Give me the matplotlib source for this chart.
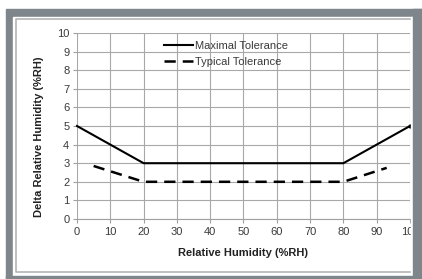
import numpy as np
import matplotlib
matplotlib.use("Agg")
import matplotlib.pyplot as plt
from matplotlib.patches import Rectangle
from matplotlib.lines import Line2D

plt.rcParams['font.family'] = ['Liberation Sans', 'DejaVu Sans']

# data
max_x = [0, 20, 80, 100]
max_y = [5, 3, 3, 5]
typ_x = [5, 20, 80, 93]
typ_y = [2.85, 2, 2, 2.75]
x_ticks = np.arange(0, 101, 10)
y_ticks = np.arange(0, 11, 1)

W, H = 422, 279
fig = plt.figure(figsize=(W / 100, H / 100), dpi=100)
fig.patch.set_facecolor('white')


def fr(x0, y0, x1, y1):
    # pixel box (top-down) -> figure fraction rect
    return (x0 / W, 1 - y1 / H), (x1 - x0) / W, (y1 - y0) / H


frame = '#7e868b'
xy, w, h = fr(6, 9, 422, 279)
fig.patches.append(Rectangle(xy, w, h, transform=fig.transFigure, color=frame, zorder=-3))
xy, w, h = fr(13, 17, 413, 276)
fig.patches.append(Rectangle(xy, w, h, transform=fig.transFigure, color='white', zorder=-2))
# thin inner border (top, left, bottom)
bx = [411 / W, 16 / W, 16 / W, 411 / W]
by = [1 - 19 / H, 1 - 19 / H, 1 - 272 / H, 1 - 272 / H]
fig.lines.append(Line2D(bx, by, transform=fig.transFigure, color='#b4b4b4', lw=1.2, zorder=-1))

ax = fig.add_axes([77 / W, 1 - 219 / H, (410 - 77) / W, (219 - 33) / H])
ax.set_facecolor('none')
ax.set_xlim(0, 100)
ax.set_ylim(0, 10)
ax.set_xticks(x_ticks)
ax.set_yticks(y_ticks)
ax.grid(True, color='#a8a8a8', lw=0.8)
ax.set_axisbelow(True)
for s in ['top', 'right', 'left']:
    ax.spines[s].set_visible(False)
ax.spines['bottom'].set_color('#a0a0a0')
ax.spines['bottom'].set_linewidth(0.8)
ax.tick_params(axis='both', length=3, width=0.8, color='#a0a0a0',
               labelsize=8, labelcolor='#3a3a3a', pad=2.5)

ax.plot(max_x, max_y, color='black', lw=1.5, label='Maximal Tolerance', clip_on=False)
ax.plot(typ_x, typ_y, color='black', lw=1.8, linestyle=(0, (4.5, 2.8)),
        label='Typical Tolerance', clip_on=False)
ax.plot([100], [5], 'o', color='black', ms=2, clip_on=False)

ax.set_xlabel('Relative Humidity (%RH)', fontsize=8, fontweight='bold', color='#222222')
ax.set_ylabel('Delta Relative Humidity (%RH)', fontsize=8, fontweight='bold', color='#222222')
ax.xaxis.set_label_coords(0.5, -0.155)
ax.yaxis.set_label_coords(-0.1, 0.44)

leg = ax.legend(loc='upper left', bbox_to_anchor=(0.262, 0.955), frameon=False,
                fontsize=8, borderpad=0, borderaxespad=0, handlelength=2.6,
                handletextpad=0.2, labelspacing=0.5)
for t in leg.get_texts():
    t.set_color('#3a3a3a')

# right-hand crop of the original picture
xy, w, h = fr(410.5, 17, 413, 276)
fig.patches.append(Rectangle(xy, w, h, transform=fig.transFigure, color='white', zorder=5))
xy, w, h = fr(413, 9, 422, 279)
fig.patches.append(Rectangle(xy, w, h, transform=fig.transFigure, color=frame, zorder=5))
xy, w, h = fr(6, 276, 422, 279)
fig.patches.append(Rectangle(xy, w, h, transform=fig.transFigure, color=frame, zorder=5))

fig.savefig('out.png', dpi=100)
